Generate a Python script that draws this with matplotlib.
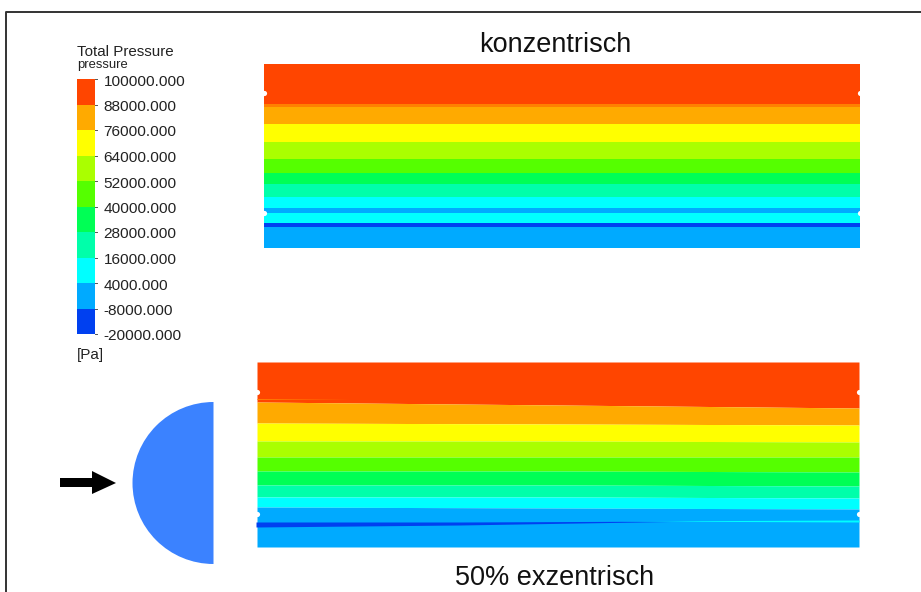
import numpy as np
import matplotlib
matplotlib.use("Agg")
import matplotlib.pyplot as plt
from matplotlib.patches import Wedge, Polygon

plt.rcParams['font.family'] = ['Liberation Sans', 'DejaVu Sans']

legend_labels = ["100000.000", "88000.000", "76000.000", "64000.000", "52000.000", "40000.000",
                 "28000.000", "16000.000", "4000.000", "-8000.000", "-20000.000"]
levels = [100000, 88000, 76000, 64000, 52000, 40000, 28000, 16000, 4000, -8000, -20000]
band_colors = ["#FF4500", "#FFAA00", "#FFFF00", "#AAFF00", "#55FF00", "#00FF55",
               "#00FFAA", "#00FFFF", "#00AAFF", "#0040F0"]

# top panel, band boundaries in image rows
top_edges = [64, 104, 107, 124, 142, 159, 173, 184, 197, 208, 213, 223, 227, 248]
top_colors = ["#FF4500", "#FF8000", "#FFAA00", "#FFFF00", "#AAFF00", "#55FF00", "#00FF55",
              "#00FFAA", "#00FFFF", "#00AAFF", "#00FFFF", "#0040F0", "#00AAFF"]

# bottom panel, boundaries at left / middle / right
bot_x = [257, 560, 859]
bot_edges = [[362, 362, 362], [402, 405, 408], [423, 424, 425], [441, 441, 442], [457, 457, 457],
             [471, 471, 472], [485, 485, 486], [497, 497, 498], [507, 508, 509]]
bot_colors = ["#FF4500", "#FFAA00", "#FFFF00", "#AAFF00", "#55FF00", "#00FF55", "#00FFAA", "#00FFFF"]

fig = plt.figure(figsize=(9.21, 5.92), dpi=100)
ax = fig.add_axes([0, 0, 1, 1])
ax.set_xlim(0, 921)
ax.set_ylim(592, 0)
ax.axis("off")

# frame
ax.plot([5.5, 5.5, 921], [592, 11.5, 11.5], color="#333333", lw=1.4)

# legend
bar_y = np.linspace(79, 334, len(levels))
for i, c in enumerate(band_colors):
    ax.fill_between([76.5, 95], bar_y[i], bar_y[i + 1], color=c, lw=0)
for y, lab in zip(bar_y, legend_labels):
    ax.plot([95, 97], [y, y], color="#555555", lw=0.7)
    ax.text(103.5, y + 2.5, lab, fontsize=11.1, va="center", color="#222222")
ax.text(77, 52, "Total Pressure", fontsize=10.9, va="center", color="#222222")
ax.text(77, 65, "pressure", fontsize=9.4, va="center", color="#222222")
ax.text(77, 355, "[Pa]", fontsize=11, va="center", color="#222222")

# top panel
for i, c in enumerate(top_colors):
    ax.fill_between([264, 860], top_edges[i], top_edges[i + 1], color=c, lw=0)

# bottom panel
for i, c in enumerate(bot_colors):
    ax.fill_between(bot_x, bot_edges[i], bot_edges[i + 1], color=c, lw=0)
ax.fill_between(bot_x, [507, 508, 509], [547, 547, 547], color="#00AAFF", lw=0)
ax.fill_between([256, 460, 700], [522, 522, 521], [527, 525, 521], color="#0040F0", lw=0)
ax.fill_between([620, 859], [521, 520], [521, 522], color="#00FFFF", lw=0)
ax.fill_between([257, 350], [398.5, 398.5], [399.5, 398.5], color="#FF8000", lw=0)

# notches on the panel sides
notch_x = [264, 860, 264, 860, 257, 859, 257, 859]
notch_y = [93, 93, 213, 213, 392, 392, 514, 514]
ax.scatter(notch_x, notch_y, s=14, color="white", lw=0, zorder=3)

# half cylinder and flow arrow
ax.add_patch(Wedge((213.5, 483), 81, 90, 270, color="#3B82FF", lw=0))
ax.add_patch(Polygon([(60, 478), (92, 478), (92, 471), (116, 483), (92, 494), (92, 487), (60, 487)],
                     color="black", lw=0))

ax.text(555, 45, "konzentrisch", fontsize=19.5, ha="center", va="center", color="#111111")
ax.text(555, 578, "50% exzentrisch", fontsize=19.5, ha="center", va="center", color="#111111")

fig.savefig("out.png", dpi=100)
